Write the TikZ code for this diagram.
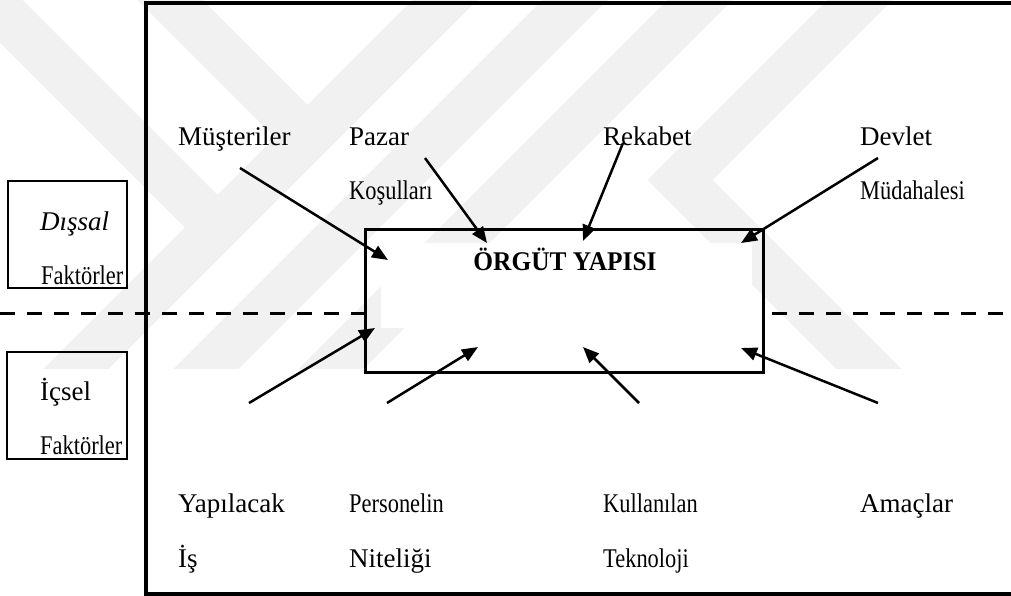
\documentclass[tikz,border=0pt]{standalone}
\usepackage{fontspec}
\setmainfont{Liberation Serif}
\newfontfamily\narrowfont{Liberation Serif}[FakeStretch=0.83]
\newfontfamily\titlefont{Liberation Serif}[FakeStretch=0.94]
\usetikzlibrary{arrows.meta}
\definecolor{wmgray}{RGB}{241,241,241}
\begin{document}
\begin{tikzpicture}[x=1pt,y=-1pt,
  lbl/.style={anchor=base west, inner sep=0pt, font=\fontsize{27}{32}\selectfont},
  nlbl/.style={anchor=base west, inner sep=0pt, font=\fontsize{27}{32}\selectfont\narrowfont},
  arr/.style={line width=2.5pt, -{Triangle[length=16pt,width=13pt]}},
  wm/.style={line width=46pt, draw=wmgray},
  frame/.style={line width=3.4pt},
  sidebox/.style={draw, line width=1.6pt},
  sep/.style={line width=3pt, dash pattern=on 15pt off 12pt}
]
\useasboundingbox (0,0) rectangle (1011,596);
% watermark
\begin{scope}
\clip (0,0) rectangle (1011,368);
\draw[wm] (45,400) -- (465,-20);
\draw[wm] (175,400) -- (595,-20);
\draw[wm] (300,400) -- (720,-20);
\draw[wm] (-30,-20) -- (217.5,227.5);
\draw[wm] (150,-20) -- (307.5,137.5);
\draw[wm, line join=miter] (880,-20) -- (680,180) -- (900,400);
\end{scope}
% frame
\draw[frame] (1015,3) -- (146,3) -- (146,594) -- (1015,594);
% separator
\draw[sep] (0,313) -- (364,313);
\draw[sep] (772,313) -- (1011,313);
% inner box
\fill[white] (381,243) rectangle (752,328);
\node[draw, line width=3pt, minimum width=398pt, minimum height=143pt, inner sep=0pt, anchor=north west] (org) at (364,228) {};
\node[anchor=base, inner sep=0pt, font=\fontsize{27}{32}\selectfont\titlefont\bfseries] (orgt) at (565,270) {ÖRGÜT YAPISI};
% side boxes
\node[sidebox, minimum width=119pt, minimum height=107pt, inner sep=0pt, anchor=north west] (dbox) at (7,180) {};
\node[sidebox, minimum width=120pt, minimum height=107pt, inner sep=0pt, anchor=north west] (ibox) at (6,351) {};
\node[lbl, font=\fontsize{27}{32}\selectfont\itshape] (dis) at (40,230) {Dışsal};
\node[nlbl] (fak1) at (41,284) {Faktörler};
\node[lbl] (ic) at (40,400) {İçsel};
\node[nlbl] (fak2) at (40,454) {Faktörler};
% top labels
\node[lbl] (mus) at (178,146) {Müşteriler};
\node[lbl] (paz) at (349,146) {Pazar};
\node[nlbl] (kos) at (349,200) {Koşulları};
\node[lbl] (rek) at (603,146) {Rekabet};
\node[lbl] (dev) at (860,146) {Devlet};
\node[nlbl] (mud) at (860,200) {Müdahalesi};
% bottom labels
\node[lbl] (yap) at (178,512) {Yapılacak};
\node[lbl] (is) at (178,567) {İş};
\node[nlbl] (per) at (349,512) {Personelin};
\node[lbl] (nit) at (349,567) {Niteliği};
\node[nlbl] (kul) at (603,512) {Kullanılan};
\node[nlbl] (tek) at (603,567) {Teknoloji};
\node[lbl] (ama) at (860,512) {Amaçlar};
% arrow ends
\coordinate (m0) at (240,168); \coordinate (m1) at (388,260);
\coordinate (p0) at (425,158); \coordinate (p1) at (487,243);
\coordinate (r0) at (623,143); \coordinate (r1) at (583,241);
\coordinate (d0) at (878,158); \coordinate (d1) at (741,243);
\coordinate (y0) at (249,403); \coordinate (y1) at (375,328);
\coordinate (e0) at (387,403); \coordinate (e1) at (478,347);
\coordinate (k0) at (639,403); \coordinate (k1) at (583,347);
\coordinate (a0) at (878,403); \coordinate (a1) at (741,348);
\draw[arr] (m0) -- (m1);
\draw[arr] (p0) -- (p1);
\draw[arr] (r0) -- (r1);
\draw[arr] (d0) -- (d1);
\draw[arr] (y0) -- (y1);
\draw[arr] (e0) -- (e1);
\draw[arr] (k0) -- (k1);
\draw[arr] (a0) -- (a1);
\end{tikzpicture}
\end{document}
